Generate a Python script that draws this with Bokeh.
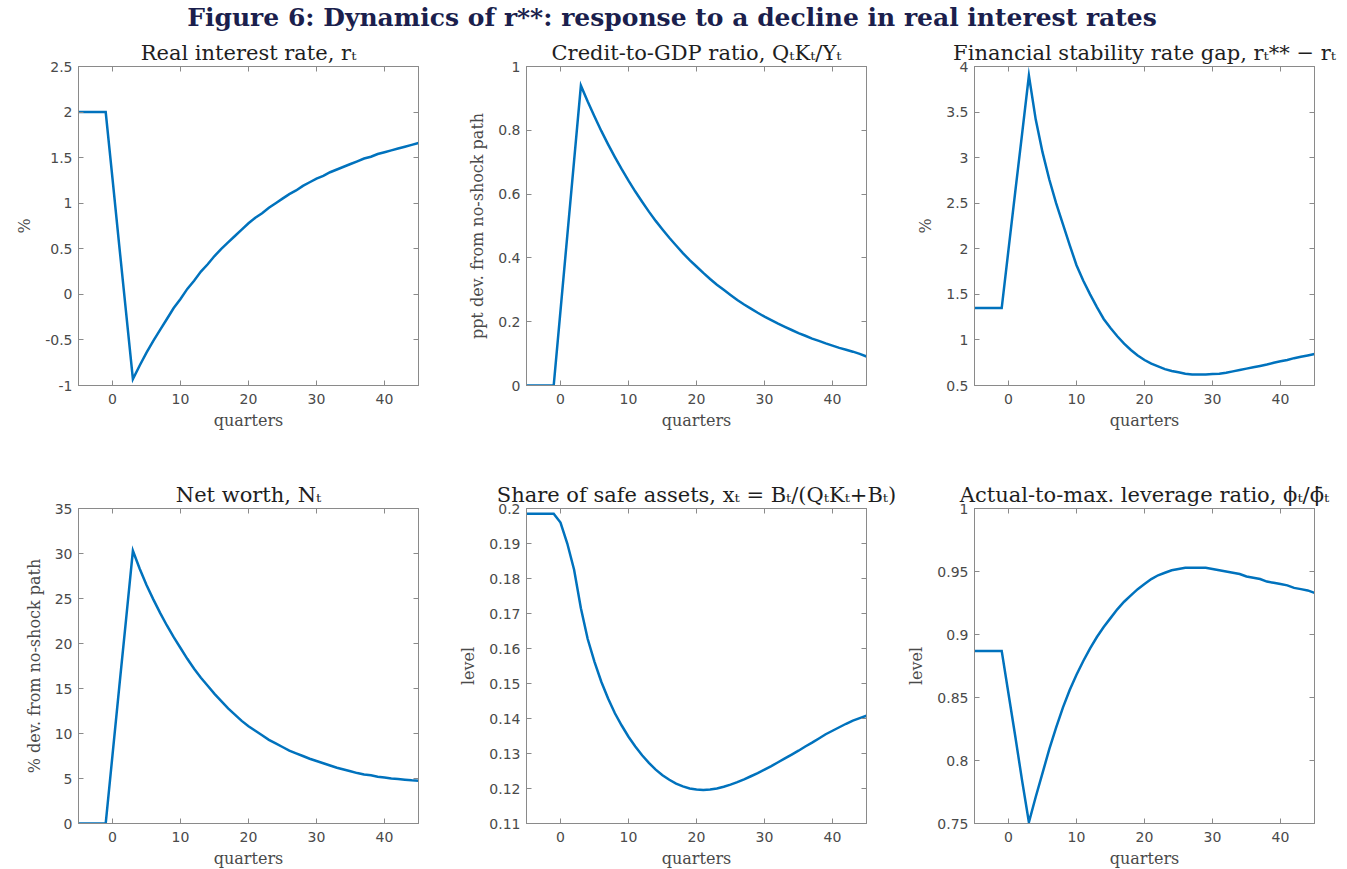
from bokeh.plotting import figure
from bokeh.layouts import column, row
from bokeh.models import (Range1d, FixedTicker, NumeralTickFormatter, Div, LinearAxis,
                          CustomLabelingPolicy)
from bokeh.embed import file_html
from bokeh.resources import INLINE

# ---------------- data ----------------
quarters = list(range(-5, 46))

real_rate = [2.0, 2.0, 2.0, 2.0, 2.0,
             1.27, 0.53, -0.20, -0.93,
             -0.78, -0.64, -0.51, -0.39, -0.27, -0.15, -0.05,
             0.06, 0.15, 0.25, 0.33, 0.42, 0.50, 0.57, 0.64, 0.71, 0.78,
             0.84, 0.89, 0.95, 1.00, 1.05, 1.10, 1.14, 1.19, 1.23, 1.27,
             1.30, 1.34, 1.37, 1.40, 1.43, 1.46, 1.49, 1.51, 1.54, 1.56,
             1.58, 1.60, 1.62, 1.64, 1.66]

credit_gdp = [0.0, 0.0, 0.0, 0.0, 0.0,
              0.235, 0.47, 0.705, 0.94,
              0.89, 0.843, 0.798, 0.756, 0.716, 0.678, 0.642,
              0.608, 0.576, 0.545, 0.516, 0.489, 0.463, 0.439, 0.415, 0.393, 0.373,
              0.353, 0.334, 0.316, 0.300, 0.284, 0.268, 0.254, 0.241, 0.228, 0.216,
              0.205, 0.194, 0.184, 0.174, 0.164, 0.156, 0.147, 0.140, 0.132, 0.125,
              0.118, 0.112, 0.106, 0.099, 0.091]

fs_gap = [1.35, 1.35, 1.35, 1.35, 1.35,
          1.99, 2.63, 3.26, 3.90,
          3.42, 3.06, 2.76, 2.50, 2.27, 2.04, 1.82,
          1.65, 1.50, 1.36, 1.23, 1.13, 1.04, 0.96, 0.89, 0.83, 0.78,
          0.74, 0.71, 0.68, 0.66, 0.645, 0.63, 0.62, 0.62, 0.62, 0.625,
          0.63, 0.64, 0.655, 0.67, 0.685, 0.70, 0.715, 0.73, 0.75, 0.765,
          0.78, 0.80, 0.815, 0.83, 0.845]

net_worth = [0.0, 0.0, 0.0, 0.0, 0.0,
             7.6, 15.2, 22.7, 30.3,
             28.3, 26.5, 24.9, 23.4, 22.0, 20.7, 19.5,
             18.3, 17.2, 16.2, 15.3, 14.4, 13.6, 12.8, 12.1, 11.4, 10.8,
             10.3, 9.8, 9.3, 8.9, 8.5, 8.1, 7.8, 7.5, 7.2, 6.95,
             6.7, 6.45, 6.2, 6.0, 5.8, 5.6, 5.45, 5.35, 5.2, 5.1,
             5.0, 4.95, 4.87, 4.8, 4.75]

safe_share = [0.1985, 0.1985, 0.1985, 0.1985, 0.1985,
              0.196, 0.190, 0.1825, 0.1715,
              0.1627, 0.1562, 0.1505, 0.1457, 0.1415, 0.1380, 0.1348,
              0.1320, 0.1295, 0.1273, 0.1254, 0.1238, 0.1225, 0.1214, 0.1206, 0.1200, 0.1197,
              0.1196, 0.1197, 0.1200, 0.1205, 0.1211, 0.1218, 0.1226, 0.1235, 0.1244, 0.1254,
              0.1264, 0.1275, 0.1286, 0.1297, 0.1308, 0.1320, 0.1331, 0.1343, 0.1355, 0.1365,
              0.1375, 0.1385, 0.1394, 0.1401, 0.1408]

leverage = [0.887, 0.887, 0.887, 0.887, 0.887,
            0.853, 0.819, 0.784, 0.751,
            0.771, 0.790, 0.809, 0.826, 0.842, 0.856, 0.868,
            0.879, 0.889, 0.898, 0.906, 0.913, 0.920, 0.926, 0.931, 0.936, 0.940,
            0.944, 0.947, 0.949, 0.951, 0.952, 0.953, 0.953, 0.953, 0.953, 0.952,
            0.951, 0.950, 0.949, 0.948, 0.946, 0.945, 0.944, 0.942, 0.941, 0.940,
            0.939, 0.937, 0.936, 0.935, 0.933]

x_ticks = [0, 10, 20, 30, 40]
rate_ticks = [-1, -0.5, 0, 0.5, 1, 1.5, 2, 2.5]
credit_ticks = [0, 0.2, 0.4, 0.6, 0.8, 1]
gap_ticks = [0.5, 1, 1.5, 2, 2.5, 3, 3.5, 4]
networth_ticks = [0, 5, 10, 15, 20, 25, 30, 35]
safe_ticks = [0.11, 0.12, 0.13, 0.14, 0.15, 0.16, 0.17, 0.18, 0.19, 0.2]
leverage_ticks = [0.75, 0.8, 0.85, 0.9, 0.95, 1]

main_title = "Figure 6: Dynamics of r**: response to a decline in real interest rates"
titles = ["Real interest rate, r\u209c",
          "Credit-to-GDP ratio, Q\u209cK\u209c/Y\u209c",
          "Financial stability rate gap, r\u209c** \u2212 r\u209c",
          "Net worth, N\u209c",
          "Share of safe assets, x\u209c = B\u209c/(Q\u209cK\u209c+B\u209c)",
          "Actual-to-max. leverage ratio, \u03d5\u209c/\u03d5\u0304\u209c"]
ylabels = ["%", "ppt dev. from no-shock path", "%",
           "% dev. from no-shock path", "level", "level"]
xlabel = "quarters"

SERIF = "DejaVu Serif"
SANS = "DejaVu Sans"
LINE = "#0072BD"
FRAME = "#8a8a8a"

NO_LABELS_JS = """
try {
    return new indices.constructor(indices.size);
} catch (e) {
    return indices;
}
"""


def style_ticks(ax, ticks, fmt):
    ax.ticker = FixedTicker(ticks=ticks)
    ax.formatter = NumeralTickFormatter(format=fmt)
    ax.major_tick_in = 5
    ax.major_tick_out = 0
    ax.major_tick_line_color = FRAME
    ax.minor_tick_line_color = None
    ax.axis_line_color = FRAME


def tick_only_axis(ticks, fmt):
    # mirrored ticks (MATLAB "box on"): ticks without any labels
    ax = LinearAxis()
    style_ticks(ax, ticks, fmt)
    ax.major_label_standoff = 0
    ax.major_label_text_font_size = "1px"
    ax.major_label_text_alpha = 0
    ax.major_label_policy = CustomLabelingPolicy(code=NO_LABELS_JS)
    return ax


def panel(title, ylabel, y, yticks, yr, fh, left, top, bottom, right):
    p = figure(frame_width=340, frame_height=fh,
               x_range=Range1d(-5, 45), y_range=Range1d(*yr),
               output_backend="svg", toolbar_location=None,
               min_border_left=left, min_border_right=right,
               min_border_top=top, min_border_bottom=bottom,
               background_fill_color="white", border_fill_color="white")
    p.line(quarters, y, line_color=LINE, line_width=2.5, line_join="miter")
    p.grid.visible = False
    p.outline_line_color = FRAME
    p.outline_line_width = 1
    p.title.text = title
    p.title.align = "center"
    p.title.text_font = SERIF
    p.title.text_font_size = "21px"
    p.title.text_font_style = "normal"
    p.title.text_color = "#1e1e1e"
    p.title.standoff = 3
    for ax, ticks, fmt in ((p.xaxis[0], x_ticks, "0"), (p.yaxis[0], yticks, "0.[00]")):
        style_ticks(ax, ticks, fmt)
        ax.major_label_text_font = SANS
        ax.major_label_text_font_size = "14px"
        ax.major_label_text_color = "#4a4a4a"
        ax.axis_label_text_font = SERIF
        ax.axis_label_text_font_size = "16px"
        ax.axis_label_text_font_style = "normal"
        ax.axis_label_text_color = "#4a4a4a"
    p.xaxis.axis_label = xlabel
    p.xaxis.major_label_standoff = 8
    p.xaxis.axis_label_standoff = 4
    p.yaxis.axis_label = ylabel
    p.yaxis.major_label_standoff = 6
    p.yaxis.axis_label_standoff = 8
    p.add_layout(tick_only_axis(x_ticks, "0"), "above")
    p.add_layout(tick_only_axis(yticks, "0.[00]"), "right")
    return p


p1 = panel(titles[0], ylabels[0], real_rate, rate_ticks, (-1, 2.5), 319, 78, 30, 55, 38)
p2 = panel(titles[1], ylabels[1], credit_gdp, credit_ticks, (0, 1), 319, 70, 30, 55, 38)
p3 = panel(titles[2], ylabels[2], fs_gap, gap_ticks, (0.5, 4), 319, 70, 30, 55, 30)
p4 = panel(titles[3], ylabels[3], net_worth, networth_ticks, (0, 35), 315, 78, 68, 47, 38)
p5 = panel(titles[4], ylabels[4], safe_share, safe_ticks, (0.11, 0.2), 315, 70, 68, 47, 38)
p6 = panel(titles[5], ylabels[5], leverage, leverage_ticks, (0.75, 1), 315, 70, 68, 47, 30)

head = Div(text=('<div style="width:1344px;text-align:center;font-family:\'DejaVu Serif\';'
                 'font-weight:bold;font-size:25px;line-height:36px;color:#1b1f4d;">'
                 + main_title + '</div>'),
           width=1344, height=36, margin=(0, 0, 0, 0))

layout = column(head, row(p1, p2, p3), row(p4, p5, p6))

with open("out.html", "w") as f:
    f.write(file_html(layout, INLINE, title="Figure 6"))
